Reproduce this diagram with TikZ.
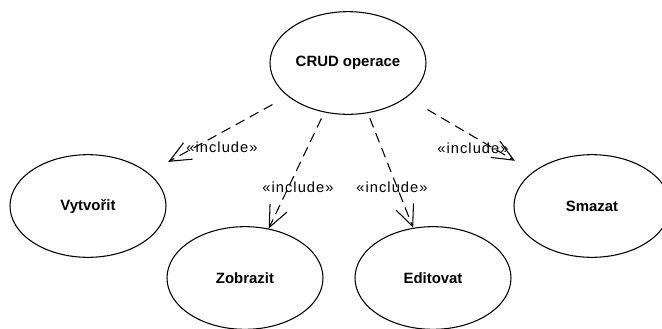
\documentclass[tikz,border=0pt]{standalone}
\usepackage{fontspec}
\setmainfont{Liberation Sans}
\newfontfamily\inclfont[LetterSpace=7]{Liberation Sans}
\usetikzlibrary{shapes,arrows.meta}
\tikzset{ell/.style={ellipse,draw,line width=0.8pt,minimum width=117pt,minimum height=77pt,inner sep=0pt,font=\fontsize{11.2}{13}\selectfont\bfseries}}
\tikzset{incl/.style={line width=0.8pt,dash pattern=on 7.5pt off 4.5pt,-{Straight Barb[length=16pt,width=14pt]}}}
\tikzset{lbl/.style={font=\inclfont\fontsize{11}{13}\selectfont,inner sep=1pt}}

\begin{document}
\begin{tikzpicture}[x=0.75pt,y=-0.75pt]
    \useasboundingbox (0,0) rectangle (662,329);

    \node[ell] (a)at (348,63) {CRUD operace};
    \node[ell] (b)at (88,206) {Vytvořit};
    \node[ell] (c)at (245,278) {Zobrazit};
    \node[ell] (d)at (433,278) {Editovat};
    \node[ell] (e)at (592,206) {Smazat};

    \node[lbl] (f)at (222,147) {«include»};
    \node[lbl] (g)at (298,187) {«include»};
    \node[lbl] (h)at (392,187) {«include»};
    \node[lbl] (i)at (473,148) {«include»};

    \draw [incl,shorten <=13pt,shorten >=17pt] (a) to [] (b);
    \draw [incl,shorten <=5pt] (a) to [] (c);
    \draw [incl,shorten <=4pt] (a) to [] (d);
    \draw [incl,shorten <=18pt,shorten >=16pt] (a) to [] (e);
\end{tikzpicture}
\end{document}
